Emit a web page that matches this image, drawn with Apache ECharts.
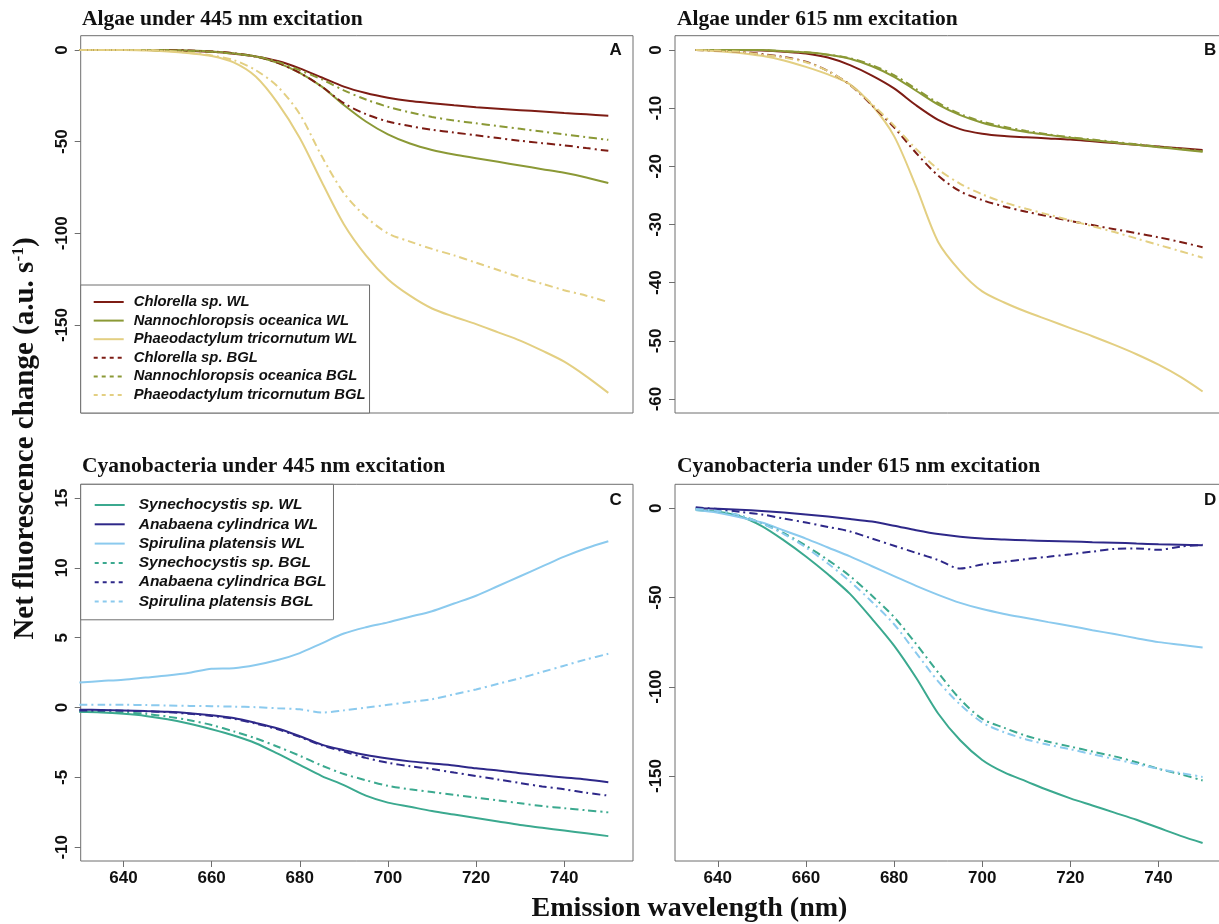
<!DOCTYPE html>
<html>
<head>
<meta charset="utf-8">
<script src="https://cdn.jsdelivr.net/npm/echarts@6.0.0/dist/echarts.min.js"></script>
<style>
html, body { margin: 0; background: #fff; }
#chart { width: 1219px; height: 924px; }
</style>
</head>
<body>
<div id="chart"></div>
<script>
// emission wavelengths (nm)
const wlAlgae445 = [630, 635, 640, 645, 650, 655, 660, 665, 670, 675, 680, 685, 690, 695, 700, 705, 710, 715, 720, 725, 730, 735, 740, 745, 750];
const wl615 = [635, 640, 645, 650, 655, 660, 665, 670, 675, 680, 685, 690, 695, 700, 705, 710, 715, 720, 725, 730, 735, 740, 745, 750];
const wlCyano445 = wlAlgae445;

// A: algae, 445 nm excitation
const chlorellaWL_A = [0, 0, 0, 0, -0.2, -0.5, -1, -2, -3.5, -6, -10, -15, -20, -23.5, -26, -27.8, -29, -30.2, -31.2, -32, -32.8, -33.6, -34.4, -35.1, -35.8];
const nannoWL_A = [0, 0, 0, 0, 0, -0.3, -0.8, -1.8, -3.5, -7, -12.5, -20, -30, -39, -46, -51, -54.5, -57, -59, -61, -63, -65, -67, -69.5, -72.5];
const phaeoWL_A = [0, 0, 0, -0.3, -0.8, -1.8, -3.3, -6.8, -14.5, -29, -48, -72, -95, -112, -125, -134, -141, -145.5, -149.5, -154, -158.5, -164, -170, -178, -187];
const chlorellaBGL_A = [0, 0, 0, 0, 0, -0.3, -0.8, -1.8, -3.5, -7, -12.5, -20, -29, -35, -39, -41.5, -43.5, -45, -46.5, -48, -49.5, -50.8, -52, -53.5, -55];
const nannoBGL_A = [0, 0, 0, 0, -0.2, -0.5, -1, -2, -3.5, -6.5, -11, -16, -22, -27, -31, -34, -36.5, -38.5, -40, -41.5, -43, -44.5, -46, -47.5, -49];
const phaeoBGL_A = [0, 0, 0, 0, -0.5, -1.5, -3, -5.5, -11, -20, -35, -58, -78, -91, -100, -104.5, -108.5, -112, -116, -120, -124, -127.5, -131, -134, -137.5];

// B: algae, 615 nm excitation
const chlorellaWL_B = [0, 0, 0, -0.1, -0.3, -0.6, -1.3, -2.6, -4.4, -6.6, -9.5, -12, -13.6, -14.4, -14.8, -15, -15.2, -15.4, -15.7, -16, -16.3, -16.6, -16.9, -17.2];
const nannoWL_B = [0, 0, 0, 0, -0.2, -0.4, -0.8, -1.5, -2.8, -4.6, -7, -9.4, -11.2, -12.5, -13.4, -14.1, -14.6, -15.1, -15.5, -15.9, -16.3, -16.7, -17.1, -17.5];
const phaeoWL_B = [0, -0.2, -0.5, -1, -1.8, -2.9, -4.2, -5.9, -9.5, -14.8, -23.5, -33, -38, -41.5, -43.4, -45, -46.4, -47.8, -49.2, -50.7, -52.3, -54.1, -56.2, -58.7];
const chlorellaBGL_B = [0, -0.1, -0.3, -0.7, -1.2, -2, -3.6, -6, -9.5, -13.3, -17.7, -21.6, -24.3, -25.8, -26.9, -27.8, -28.6, -29.4, -30.1, -30.8, -31.5, -32.2, -33, -33.9];
const nannoBGL_B = [0, 0, 0, 0, -0.2, -0.4, -0.8, -1.4, -2.6, -4.3, -6.7, -9.1, -11, -12.3, -13.2, -13.9, -14.5, -15, -15.4, -15.8, -16.2, -16.6, -17, -17.4];
const phaeoBGL_B = [0, -0.1, -0.3, -0.8, -1.3, -2.1, -3.6, -6, -9.3, -13, -17, -20.5, -23, -24.8, -26.2, -27.3, -28.3, -29.3, -30.3, -31.3, -32.4, -33.5, -34.6, -35.7];

// C: cyanobacteria, 445 nm excitation
const synWL_C = [-0.3, -0.35, -0.45, -0.6, -0.84, -1.15, -1.55, -2.0, -2.55, -3.3, -4.1, -4.9, -5.55, -6.3, -6.8, -7.1, -7.4, -7.65, -7.9, -8.15, -8.4, -8.6, -8.8, -9.0, -9.2];
const anaWL_C = [-0.15, -0.17, -0.2, -0.25, -0.3, -0.4, -0.55, -0.75, -1.1, -1.5, -2.05, -2.65, -3.05, -3.4, -3.65, -3.85, -4.0, -4.15, -4.35, -4.5, -4.7, -4.85, -5.0, -5.15, -5.35];
const spiWL_C = [1.8, 1.9, 2.0, 2.15, 2.3, 2.5, 2.78, 2.82, 3.05, 3.4, 3.9, 4.6, 5.3, 5.75, 6.1, 6.5, 6.9, 7.45, 8.0, 8.7, 9.4, 10.1, 10.8, 11.4, 11.9];
const synBGL_C = [-0.3, -0.32, -0.35, -0.45, -0.65, -0.9, -1.25, -1.7, -2.2, -2.8, -3.45, -4.15, -4.75, -5.2, -5.6, -5.85, -6.05, -6.25, -6.45, -6.65, -6.85, -7.05, -7.2, -7.35, -7.5];
const anaBGL_C = [-0.2, -0.2, -0.22, -0.27, -0.33, -0.45, -0.6, -0.8, -1.15, -1.55, -2.1, -2.7, -3.15, -3.6, -3.95, -4.2, -4.4, -4.65, -4.9, -5.15, -5.4, -5.65, -5.85, -6.1, -6.3];
const spiBGL_C = [0.2, 0.2, 0.2, 0.18, 0.15, 0.12, 0.1, 0.07, 0.03, -0.05, -0.12, -0.35, -0.2, 0.0, 0.2, 0.4, 0.6, 0.95, 1.3, 1.7, 2.1, 2.55, 3.0, 3.45, 3.85];

// D: cyanobacteria, 615 nm excitation
const synWL_D = [-1, -2, -4.5, -10, -18, -27, -37, -48, -62, -77, -95, -115, -130, -141, -148, -153, -158, -162.5, -166.5, -170.5, -174.5, -179, -183.5, -187.5];
const anaWL_D = [0, -0.3, -0.8, -1.5, -2.4, -3.5, -4.7, -6, -7.5, -9.8, -12.3, -14.5, -16, -17, -17.5, -18, -18.3, -18.6, -19, -19.3, -19.8, -20.2, -20.5, -20.8];
const spiWL_D = [-1, -2.5, -5, -8, -12.5, -17, -22, -27, -32.5, -38, -43.5, -48.5, -53, -56.5, -59.2, -61.5, -63.8, -66, -68.3, -70.5, -72.8, -75, -76.5, -78];
const synBGL_D = [-0.5, -1.5, -4, -8.5, -14, -21, -29, -38, -49, -61, -76, -92, -107, -118, -123, -127.5, -130.8, -133.5, -136.3, -139, -142.3, -146, -149, -152.5];
const anaBGL_D = [0.5, -0.5, -2, -3.5, -5.8, -8, -10.5, -13, -17, -21, -25, -29, -33.8, -31.5, -30, -28.5, -27.2, -25.8, -24.3, -22.8, -22.5, -23.3, -21.5, -20.5];
const spiBGL_D = [-0.5, -1.5, -4, -8.5, -14.5, -22, -31, -41, -52.5, -65, -81, -97, -110, -120, -125.5, -129.5, -132.5, -135, -137.8, -140.5, -143.3, -146, -148.3, -150.5];

// tick labels
const xTicks = [640, 660, 680, 700, 720, 740];
const yTicksA = [0, -50, -100, -150];
const yTicksB = [0, -10, -20, -30, -40, -50, -60];
const yTicksC = [-10, -5, 0, 5, 10, 15];
const yTicksD = [0, -50, -100, -150];

const algaeNames = ["Chlorella sp. WL", "Nannochloropsis oceanica WL", "Phaeodactylum tricornutum WL",
  "Chlorella sp. BGL", "Nannochloropsis oceanica BGL", "Phaeodactylum tricornutum BGL"];
const cyanoNames = ["Synechocystis sp. WL", "Anabaena cylindrica WL", "Spirulina platensis WL",
  "Synechocystis sp. BGL", "Anabaena cylindrica BGL", "Spirulina platensis BGL"];

const algaeColors = ["#7d1c14", "#8b9936", "#e3cf82"];
const cyanoColors = ["#3ba98f", "#2e2889", "#8bcaee"];

const chart = echarts.init(document.getElementById("chart"), null, { renderer: "canvas" });

const sans = "'Liberation Sans', Arial, sans-serif";
const serif = "'Liberation Serif', 'Times New Roman', serif";
const boxColor = "#6e6e6e";
const dotdash = [8, 4, 2, 4];

function line(name, wl, vals, color, bgl, idx) {
  return {
    type: "line",
    name: name,
    xAxisIndex: idx,
    yAxisIndex: idx,
    data: wl.map((x, i) => [x, vals[i]]),
    symbol: "none",
    smooth: 0.3,
    silent: true,
    itemStyle: { color: color },
    lineStyle: { color: color, width: 2, type: bgl ? dotdash : "solid" },
  };
}

function panelSeries(names, colors, wl, wlVals, bglVals, idx) {
  const out = [];
  wlVals.forEach((v, i) => out.push(line(names[i], wl, v, colors[i], false, idx)));
  bglVals.forEach((v, i) => out.push(line(names[i + 3], wl, v, colors[i], true, idx)));
  return out;
}

const plotW = 552.3;
const grids = [
  { left: 80.7, top: 35.7, width: plotW, height: 377.3 },
  { left: 675, top: 35.7, width: plotW, height: 377.3 },
  { left: 80.7, top: 484.3, width: plotW, height: 376.7 },
  { left: 675, top: 484.3, width: plotW, height: 376.7 },
].map((g) => Object.assign(g, {
  show: true, borderColor: boxColor, borderWidth: 1, backgroundColor: "transparent",
  containLabel: false, outerBoundsMode: "none",
}));

const yRanges = [[-198, 7.8], [-62.4, 2.46], [-10.98, 15.98], [-197.6, 13.4]];
const yTicks = [yTicksA, yTicksB, yTicksC, yTicksD];

const labelFont = { fontFamily: sans, fontWeight: "bold", fontSize: 17, color: "#111" };

const xAxes = [0, 1, 2, 3].map((i) => ({
  type: "value",
  gridIndex: i,
  min: 630.3,
  max: 755.6,
  axisLine: { show: false, onZero: false },
  splitLine: { show: false },
  axisTick: { show: i >= 2, length: 6, customValues: xTicks, lineStyle: { color: boxColor } },
  axisLabel: Object.assign({ show: i >= 2, margin: 9, customValues: xTicks }, labelFont),
}));

const yAxes = [0, 1, 2, 3].map((i) => ({
  type: "value",
  gridIndex: i,
  min: yRanges[i][0],
  max: yRanges[i][1],
  axisLine: { show: false, onZero: false },
  splitLine: { show: false },
  axisTick: { show: true, length: 6, customValues: yTicks[i], lineStyle: { color: boxColor } },
  axisLabel: Object.assign({ rotate: 90, margin: 10, customValues: yTicks[i] }, labelFont),
}));

const series = [].concat(
  panelSeries(algaeNames, algaeColors, wlAlgae445, [chlorellaWL_A, nannoWL_A, phaeoWL_A], [chlorellaBGL_A, nannoBGL_A, phaeoBGL_A], 0),
  panelSeries(algaeNames, algaeColors, wl615, [chlorellaWL_B, nannoWL_B, phaeoWL_B], [chlorellaBGL_B, nannoBGL_B, phaeoBGL_B], 1),
  panelSeries(cyanoNames, cyanoColors, wlCyano445, [synWL_C, anaWL_C, spiWL_C], [synBGL_C, anaBGL_C, spiBGL_C], 2),
  panelSeries(cyanoNames, cyanoColors, wl615, [synWL_D, anaWL_D, spiWL_D], [synBGL_D, anaBGL_D, spiBGL_D], 3)
);

function legendData(names) {
  return names.map((n, i) => (i < 3 ? n : { name: n, lineStyle: { type: [4, 4] } }));
}

function legendText(size, gap) {
  return {
    fontFamily: sans, fontSize: size, fontStyle: "italic", fontWeight: "bold",
    color: "#111", lineHeight: 16, padding: [0, 0, 0, gap],
  };
}

const legends = [
  {
    data: legendData(algaeNames),
    left: 80.7, top: 285, orient: "vertical",
    itemWidth: 30, itemHeight: 12, itemGap: 2.6,
    padding: [9, 4, 10, 12],
    borderColor: boxColor, borderWidth: 1, backgroundColor: "#fff",
    selectedMode: false,
    itemStyle: { opacity: 0 },
    textStyle: legendText(14.8, 5),
  },
  {
    data: legendData(cyanoNames),
    left: 80.7, top: 484.3, orient: "vertical",
    itemWidth: 30, itemHeight: 12, itemGap: 3.3,
    padding: [12.7, 7, 10.3, 13],
    borderColor: boxColor, borderWidth: 1, backgroundColor: "#fff",
    selectedMode: false,
    itemStyle: { opacity: 0 },
    textStyle: legendText(15.5, 9),
  },
];

const titleStyle = { fontFamily: serif, fontWeight: "bold", fontSize: 21.5, color: "#111" };
const letterStyle = { fontFamily: sans, fontWeight: "bold", fontSize: 17, color: "#111" };

const titles = [
  { text: "Algae under 445 nm excitation", left: 82, top: 8, padding: 0, textStyle: titleStyle },
  { text: "Algae under 615 nm excitation", left: 677, top: 8, padding: 0, textStyle: titleStyle },
  { text: "Cyanobacteria under 445 nm excitation", left: 82, top: 455, padding: 0, textStyle: titleStyle },
  { text: "Cyanobacteria under 615 nm excitation", left: 677, top: 455, padding: 0, textStyle: titleStyle },
  { text: "A", left: 609.5, top: 42.3, padding: 0, textStyle: letterStyle },
  { text: "B", left: 1204, top: 42.3, padding: 0, textStyle: letterStyle },
  { text: "C", left: 609.5, top: 491.5, padding: 0, textStyle: letterStyle },
  { text: "D", left: 1204, top: 491.5, padding: 0, textStyle: letterStyle },
];

chart.setOption({
  animation: false,
  backgroundColor: "#fff",
  title: titles,
  legend: legends,
  grid: grids,
  xAxis: xAxes,
  yAxis: yAxes,
  series: series,
  graphic: [
    {
      type: "text",
      x: 689.5,
      y: 909,
      style: {
        text: "Emission wavelength (nm)",
        font: "bold 28px " + serif,
        fill: "#111",
        align: "center",
        verticalAlign: "middle",
      },
    },
    {
      type: "text",
      x: 26,
      y: 438.5,
      rotation: Math.PI / 2,
      style: {
        text: "{a|Net fluorescence change (a.u. s}{b|-1}{a|)}",
        align: "center",
        verticalAlign: "middle",
        rich: {
          a: { fontFamily: serif, fontWeight: "bold", fontSize: 29, lineHeight: 34, fill: "#111" },
          b: { fontFamily: serif, fontWeight: "bold", fontSize: 17.5, lineHeight: 14, verticalAlign: "top", fill: "#111" },
        },
      },
    },
  ],
});
</script>
</body>
</html>
